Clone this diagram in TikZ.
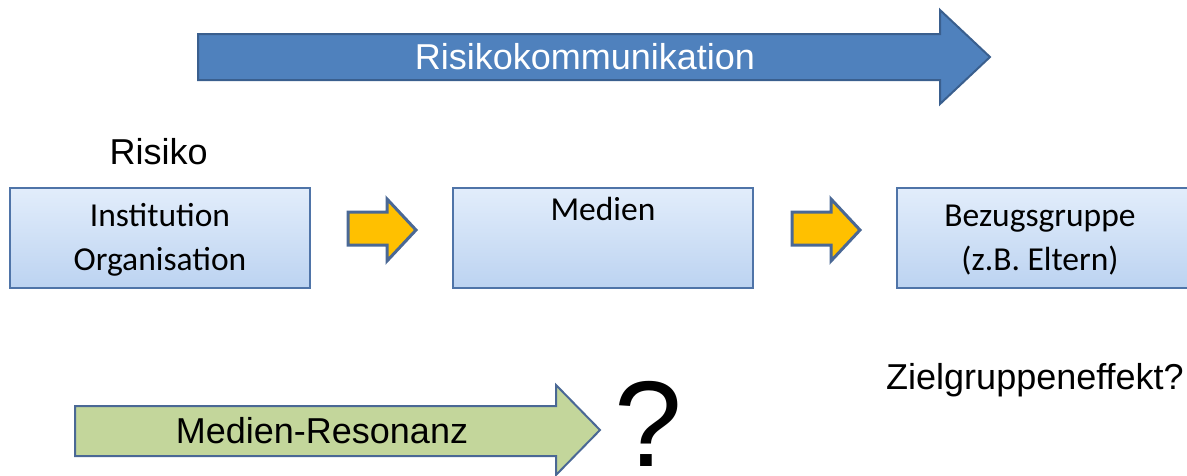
\documentclass[tikz,border=0pt]{standalone}
\usepackage{fontspec}
\setmainfont{Liberation Sans}
\newfontfamily\calfont{Carlito}
\definecolor{topblue}{HTML}{4F81BD}
\definecolor{topborder}{HTML}{3A5F8E}
\definecolor{boxtop}{HTML}{E2EDFB}
\definecolor{boxbot}{HTML}{BCD3F1}
\definecolor{boxborder}{HTML}{4F74A8}
\definecolor{orangefill}{HTML}{FFC000}
\definecolor{arrborder}{HTML}{4A6895}
\definecolor{greenfill}{HTML}{C3D69B}
\begin{document}
\begin{tikzpicture}[x=1pt,y=-1pt,
  procbox/.style={draw=boxborder,line width=2.5pt,top color=boxtop,bottom color=boxbot},
  boxtext/.style={font=\calfont\fontsize{33.5}{44}\selectfont,align=center,text=black},
  bigtext/.style={font=\fontsize{36}{40}\selectfont,text=black},
  smallarrow/.style={draw=arrborder,line width=3pt,fill=orangefill,line join=miter}]
\useasboundingbox (0,0) rectangle (1187,475);
% top arrow
\draw[draw=topborder,line width=2pt,fill=topblue,line join=miter]
  (198,34) -- (940,34) -- (940,10) -- (990,57) -- (940,104) -- (940,80) -- (198,80) -- cycle;
\node[bigtext,text=white] (rk) at (585,57) {Risikokommunikation};
% Risiko
\node[bigtext,anchor=west] (risiko) at (106,152) {Risiko};
% boxes
\draw[procbox] (10,188) rectangle (310,288);
\node[boxtext] (inst) at (160,240) {Institution\\Organisation};
\draw[procbox] (453,188) rectangle (753,288);
\node[boxtext,anchor=north] (med) at (603,194) {Medien};
\draw[procbox] (897,188) rectangle (1197,288);
\node[boxtext,anchor=center] (bez) at (1040,240) {Bezugsgruppe\\(z.B. Eltern)};
% orange arrows
\draw[smallarrow] (348,212) -- (387,212) -- (387,199) -- (416,230) -- (387,261) -- (387,245) -- (348,245) -- cycle;
\draw[smallarrow] (792,212) -- (831,212) -- (831,199) -- (860,230) -- (831,261) -- (831,245) -- (792,245) -- cycle;
% Zielgruppeneffekt
\node[bigtext] (ziel) at (1035,380) {Zielgruppeneffekt?};
% green arrow
\draw[draw=arrborder,line width=2pt,fill=greenfill,line join=miter]
  (75,406) -- (556,406) -- (556,385) -- (600,430) -- (556,475) -- (556,456) -- (75,456) -- cycle;
\node[bigtext] (mr) at (322,431) {Medien-Resonanz};
% question mark
\node[font=\fontsize{122}{128}\selectfont,anchor=south,inner sep=0pt] (q) at (648,467) {?};
\end{tikzpicture}
\end{document}
